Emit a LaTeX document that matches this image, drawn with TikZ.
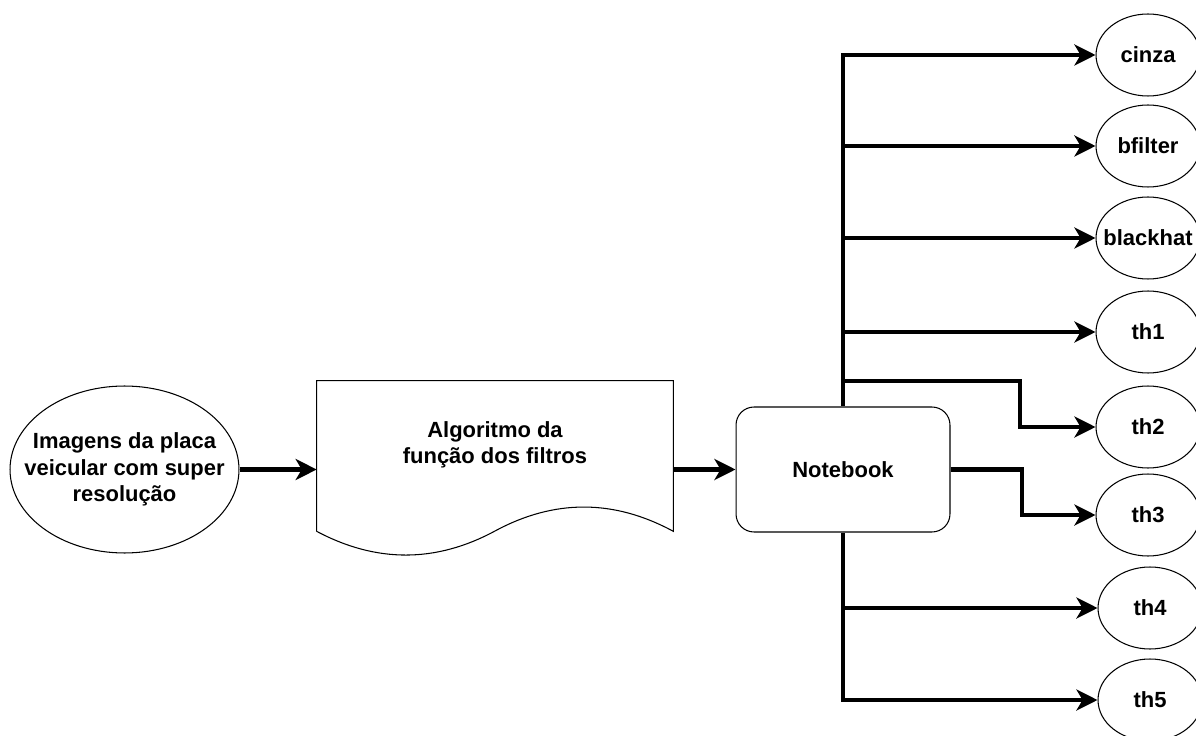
\documentclass[tikz,border=0pt]{standalone}
\usepackage{fontspec}
\setmainfont{Liberation Sans}
\usetikzlibrary{arrows.meta,shapes.geometric}
\tikzset{
  >={Stealth[length=12pt,width=12pt,inset=3.5pt]},
}
\tikzstyle{flow}=[line width=2.4pt,->]
\tikzstyle{outline}=[line width=0.6pt]
\tikzstyle{every node}=[font=\bfseries\fontsize{12.5}{15}\selectfont]
\tikzstyle{bigell}=[draw,outline,ellipse,minimum width=4.58cm,minimum height=3.34cm]
\tikzstyle{ell}=[draw,outline,ellipse,minimum width=2.08cm,minimum height=1.64cm]
\tikzstyle{nbbox}=[draw,outline,rounded corners=0.36cm,minimum width=4.28cm,minimum height=2.5cm]
\tikzstyle{docbox}=[minimum width=7.12cm,minimum height=3cm]
\tikzstyle{txt}=[align=center]

\begin{document}
\begin{tikzpicture}[x=0.02cm,y=-0.02cm]
        \useasboundingbox (0,0) rectangle (1196,736);
        \node[bigell] (img) at (124.5,469.5) {};
        \node[txt] (imgtxt) at (img) {Imagens da placa\\veicular com super\\resolução};
        \node[docbox] (algo) at (495,456) {};
        \draw[outline] (algo.south west) -- (algo.north west) -- (algo.north east) -- (algo.south east)
        .. controls (613.7,499) and (554.3,499) .. (495,531)
        .. controls (435.7,563) and (376.3,563) .. (algo.south west);
        \node[txt] (algotxt) at (495,445) {Algoritmo da\\função dos filtros};
        \node[nbbox] (nb) at (843,469.5) {Notebook};
        \foreach \n/\x/\y in {cinza/1148/55,bfilter/1148/146,blackhat/1148/238,th1/1148/332,
          th2/1148/427,th3/1148/515,th4/1150/608,th5/1150/700}
        {\node[ell] (\n) at (\x,\y) {};
         \node (\n-txt) at (\n) {\n};}
        \draw[flow] (img) -- (algo.west |- img);
        \draw[flow] (algo.east |- nb) -- (nb);
        \draw[flow] (nb.north) |- (cinza);
        \foreach \n in {bfilter,blackhat,th1}
          \draw[flow] (nb.north |- \n) -- (\n);
        \coordinate (bend2) at (1020,381);
        \draw[flow] (nb.north |- bend2) -- (bend2) |- (th2);
        \coordinate (bend3) at (1022,469.5);
        \draw[flow] (nb.east) -- (bend3) |- (th3);
        \draw[flow] (nb.south) |- (th5);
        \draw[flow] (nb.south |- th4) -- (th4);
      \end{tikzpicture}
\end{document}
